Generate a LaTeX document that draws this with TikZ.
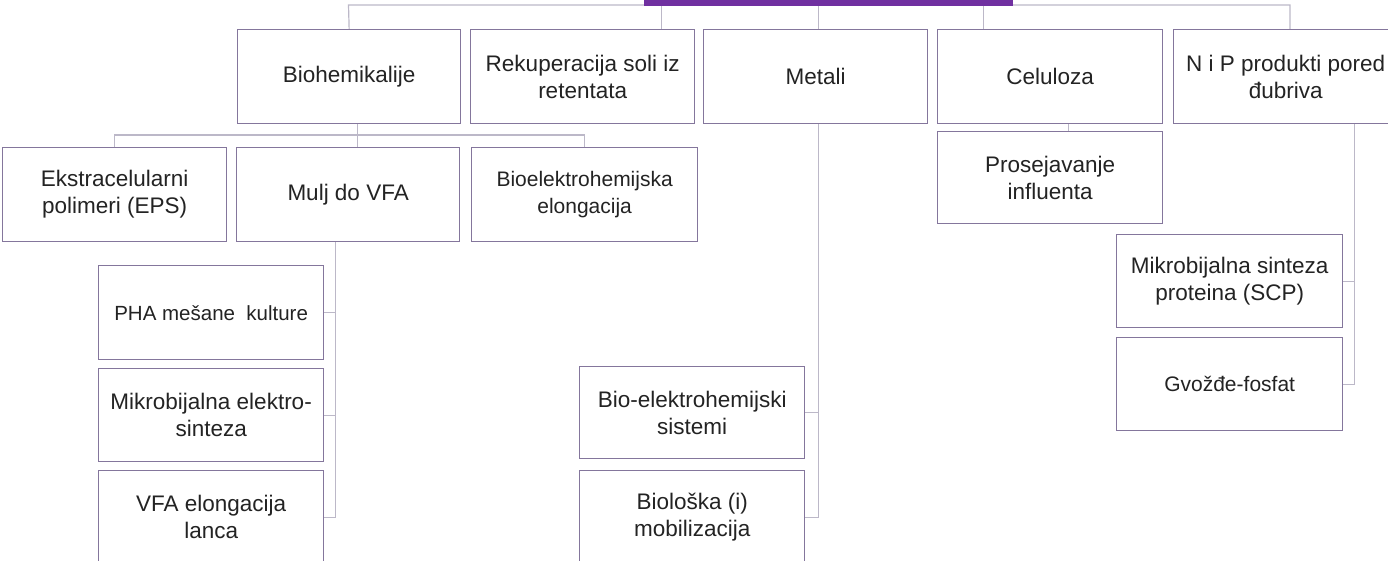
\documentclass[tikz,border=0pt]{standalone}
\usepackage{fontspec}
\setmainfont{Liberation Sans}
\definecolor{rootpurple}{RGB}{112,48,160}
\definecolor{boxline}{RGB}{132,118,156}
\definecolor{connline}{RGB}{188,184,200}
\definecolor{txt}{RGB}{35,35,35}

\begin{document}
\begin{tikzpicture}[x=1pt,y=-1pt,
  box/.style={draw=boxline, line width=1.3pt, fill=white, anchor=north west,
    inner sep=0pt, align=center, text=txt,
    font=\fontsize{22.5}{27}\selectfont},
  small/.style={font=\fontsize{21}{27}\selectfont},
  smaller/.style={font=\fontsize{20.5}{27}\selectfont},
  conn/.style={draw=connline, line width=1.2pt},
]
\useasboundingbox (0,0) rectangle (1388,561);

% first level
\node[box, minimum width=223pt, minimum height=94pt] (bio) at (237,29) {Biohemikalije};
\node[box, minimum width=224pt, minimum height=94pt] (rek) at (470,29) {Rekuperacija soli iz\\retentata};
\node[box, minimum width=224pt, minimum height=94pt] (met) at (703,29) {Metali};
\node[box, minimum width=225pt, minimum height=94pt] (cel) at (937,29) {Celuloza};
\node[box, minimum width=224pt, minimum height=94pt] (nip) at (1173,29) {N i P produkti pored\\đubriva};

% biochemicals branch
\node[box, minimum width=224pt, minimum height=94pt] (eps) at (2,147) {Ekstracelularni\\polimeri (EPS)};
\node[box, minimum width=223pt, minimum height=94pt] (mulj) at (236,147) {Mulj do VFA};
\node[box, small, minimum width=226pt, minimum height=94pt] (bel) at (471,147) {Bioelektrohemijska\\elongacija};
\node[box, smaller, minimum width=225pt, minimum height=94pt] (pha) at (98,265) {PHA mešane\ \ kulture};
\node[box, minimum width=225pt, minimum height=93pt] (mes) at (98,368) {Mikrobijalna elektro-\\sinteza};
\node[box, minimum width=225pt, minimum height=93pt] (vfa) at (98,470) {VFA elongacija\\lanca};

% metals branch
\node[box, minimum width=225pt, minimum height=92pt] (bes) at (579,366) {Bio-elektrohemijski\\sistemi};
\node[box, minimum width=225pt, minimum height=93pt] (bmo) at (579,470) {Biološka (i)\\mobilizacija};

% cellulose branch
\node[box, minimum width=225pt, minimum height=92pt] (pros) at (937,131) {Prosejavanje\\influenta};

% N and P branch
\node[box, minimum width=226pt, minimum height=93pt] (scp) at (1116,234) {Mikrobijalna sinteza\\proteina (SCP)};
\node[box, small, minimum width=226pt, minimum height=93pt] (gvo) at (1116,337) {Gvožđe-fosfat};

% top rail under the root bar
\coordinate (railL) at (348.5,5);
\coordinate (railR) at (1290,5);
\draw[conn] (bio.north) -- (railL) -- (railR) -- (nip.north -| railR);

% root bar
\node[fill=rootpurple, inner sep=0pt, minimum width=369pt, minimum height=26pt,
  anchor=south west] (root) at (644,6) {};

% drops from the root bar
\coordinate (rekin) at ([xshift=78.5pt]rek.north);
\coordinate (metin) at ([xshift=3pt]met.north);
\coordinate (celin) at ([xshift=-66.5pt]cel.north);
\draw[conn] (rekin) -- (rekin |- root.south);
\draw[conn] (metin) -- (metin |- root.south);
\draw[conn] (celin) -- (celin |- root.south);

% biochemicals connectors
\coordinate (bioout) at ([xshift=8.5pt]bio.south);
\draw[conn] (bioout) -- (bioout |- mulj.north);
\draw[conn] (eps.north) -- ++(0,-12) -| (bel.north);
\coordinate (mtr) at ([xshift=-12.5pt]mulj.south);
\draw[conn] (mtr) |- (pha.east);
\draw[conn] (mtr) |- (mes.east);
\draw[conn] (mtr) |- (vfa.east);

% metals connectors
\coordinate (mettr) at ([xshift=3pt]met.south);
\draw[conn] (mettr) |- (bes.east);
\draw[conn] (mettr) |- (bmo.east);

% cellulose connector
\coordinate (celout) at ([xshift=18.5pt]cel.south);
\draw[conn] (celout) -- (celout |- pros.north);

% N and P connectors
\coordinate (niptr) at ([xshift=69pt]nip.south);
\draw[conn] (niptr) |- (scp.east);
\draw[conn] (niptr) |- (gvo.east);
\end{tikzpicture}
\end{document}
